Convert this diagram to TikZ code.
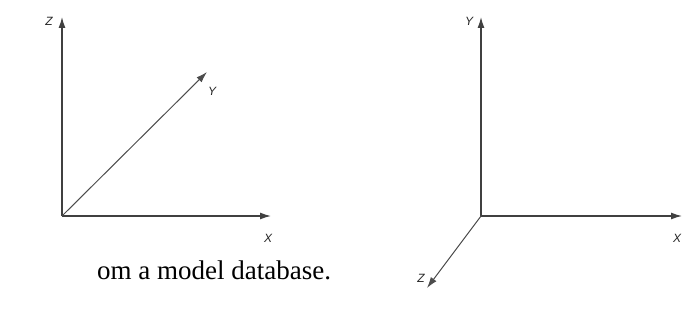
\documentclass[tikz,border=0pt]{standalone}
\usepackage{fontspec}
\setmainfont{Liberation Serif}
\newfontfamily\labfont{Liberation Sans}
\usetikzlibrary{arrows.meta}
\begin{document}
\begin{tikzpicture}[x=1pt,y=-1pt,
  axis/.style={draw=black!75, line width=1.3pt, -{Latex[length=11pt,width=7pt]}},
  diag/.style={draw=black!70, line width=1pt, -{Latex[length=11pt,width=7pt]}},
  lab/.style={font=\labfont\itshape\fontsize{12}{12}\selectfont, inner sep=0pt, text=black!85},
  caption/.style={font=\fontsize{27}{27}\selectfont, anchor=base west, inner sep=0pt}]
\useasboundingbox (0,0) rectangle (690,329);
% left axes
\coordinate (o1) at (62,216);
\coordinate (z1) at (62,17);
\coordinate (x1) at (271,216);
\coordinate (y1) at (207,72);
\draw[axis] (o1) -- (z1);
\draw[axis] (o1) -- (x1);
\draw[diag] (o1) -- (y1);
\node[lab] (zl) at (49,21) {Z};
\node[lab] (xl) at (268,238) {X};
\node[lab] (yl) at (212,91) {Y};
% right axes
\coordinate (o2) at (481,216);
\coordinate (y2) at (481,17);
\coordinate (x2) at (682,216);
\coordinate (z2) at (427,288);
\draw[axis] (o2) -- (y2);
\draw[axis] (o2) -- (x2);
\draw[diag] (o2) -- (z2);
\node[lab] (yl2) at (469,21) {Y};
\node[lab] (xl2) at (677,238) {X};
\node[lab] (zl2) at (421,278) {Z};
% caption
\node[caption] (cap) at (97,279) {om a model database.};
\end{tikzpicture}
\end{document}
